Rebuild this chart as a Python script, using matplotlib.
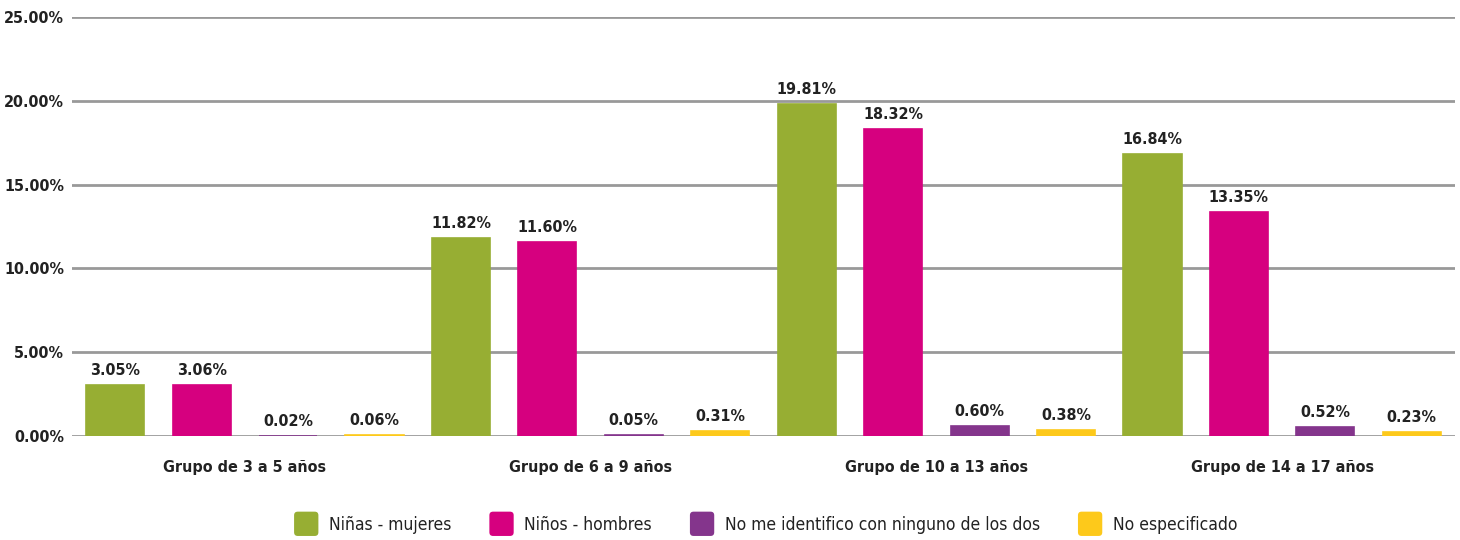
import numpy as np
import matplotlib
matplotlib.use("Agg")
import matplotlib.pyplot as plt
from matplotlib.patches import FancyBboxPatch
from matplotlib.legend_handler import HandlerPatch
from matplotlib.ticker import FuncFormatter

groups = ["Grupo de 3 a 5 años", "Grupo de 6 a 9 años", "Grupo de 10 a 13 años", "Grupo de 14 a 17 años"]
series = ["Niñas - mujeres", "Niños - hombres", "No me identifico con ninguno de los dos", "No especificado"]
ninas = [3.05, 11.82, 19.81, 16.84]
ninos = [3.06, 11.60, 18.32, 13.35]
ninguno = [0.02, 0.05, 0.60, 0.52]
no_esp = [0.06, 0.31, 0.38, 0.23]
colors = ["#97ae33", "#d6007f", "#84358c", "#fdc91b"]

# condensed DejaVu is the closest thing to the narrow bold font of the original
plt.rcParams['font.family'] = ['DejaVu Sans']
plt.rcParams['font.stretch'] = 'condensed'

fig = plt.figure(figsize=(14.6, 5.4), dpi=100)
ax = fig.add_axes([0.0493, 0.1926, 0.9473, 0.7759])

x = np.arange(len(groups))
step = 0.25
width = 0.168
values = [ninas, ninos, ninguno, no_esp]

for i, (vals, col) in enumerate(zip(values, colors)):
    pos = x + (i - 1.5) * step
    ax.bar(pos, vals, width, color=col, edgecolor=col, linewidth=1.2, zorder=3)
    for p, v in zip(pos, vals):
        ax.annotate(f"{v:.2f}%", (p, v), xytext=(0, 5), textcoords="offset points",
                    ha="center", va="bottom", fontsize=11.5, fontweight="bold", color="#222222")

ax.set_xlim(-0.5, 3.5)
ax.set_ylim(0, 25)
ax.set_yticks(np.arange(0, 26, 5))
ax.yaxis.set_major_formatter(FuncFormatter(lambda v, p: f"{v:.2f}%"))
ax.set_xticks(x)
ax.set_xticklabels(groups)
ax.tick_params(axis="both", length=0, labelsize=11.5, colors="#222222")
ax.tick_params(axis="x", pad=17)
ax.tick_params(axis="y", pad=5.5)
for lab in ax.get_xticklabels() + ax.get_yticklabels():
    lab.set_fontweight("bold")
ax.grid(axis="y", color="#999999", linewidth=2, zorder=0)
for s in ax.spines.values():
    s.set_visible(False)


class RoundBox(HandlerPatch):
    def create_artists(self, legend, orig, xd, yd, w, h, fontsize, trans):
        size = h * 2.0
        p = FancyBboxPatch((xd + w - size, yd + h / 2 - size / 2), size, size,
                           boxstyle="round,pad=0,rounding_size=%f" % (size * 0.15),
                           facecolor=orig.get_facecolor(), edgecolor="none", transform=trans)
        return [p]


handles = [plt.Rectangle((0, 0), 1, 1, color=c) for c in colors]
leg = fig.legend(handles, series, loc="center", bbox_to_anchor=(0.525, 0.028), ncol=4,
                 frameon=False, fontsize=12.5, handler_map={plt.Rectangle: RoundBox()},
                 handlelength=1.3, handletextpad=0.6, columnspacing=2.3)
for t in leg.get_texts():
    t.set_color("#222222")

fig.savefig("out.png", dpi=100)
